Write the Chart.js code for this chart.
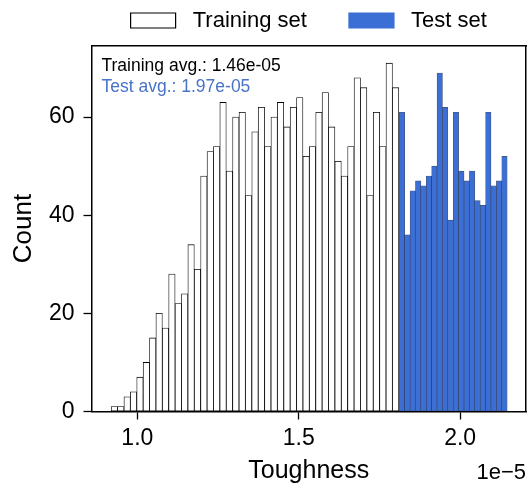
<!DOCTYPE html>
<html><head><meta charset="utf-8">
<script src="https://cdn.jsdelivr.net/npm/chart.js@4/dist/chart.umd.min.js"></script>
<style>html,body{margin:0;padding:0;background:#fff;}canvas{display:block;}</style>
</head><body>
<canvas id="c" width="528" height="489"></canvas>
<script>
// ---- data ----
const trainCounts = [1,1,3,4,7,10,15,20,17,28,22,24,34,29,48,53,54,63,49,60,61,44,57,62,54,60,63,58,62,64,52,54,61,65,58,51,48,54,68,66,44,61,54,71,66];
const testCounts = [61,36,45,47,46,48,50,69,62,39,61,49,47,49,43,42,61,46,47,52];
const trainBinStart = 0.919;   // in units of 1e-5
const trainBinWidth = 0.0198;
const testBinStart = 1.8115;
const testBinWidth = 0.01671;
const xTicks = [1.0, 1.5, 2.0];
const yTicks = [0, 20, 40, 60];
const seriesNames = ['Training set', 'Test set'];
const avgLabels = ['Training avg.: 1.46e-05', 'Test avg.: 1.97e-05'];
const xTitle = 'Toughness';
const yTitle = 'Count';
const xOffsetText = '1e\u22125';

// ---- styles / layout ----
const FONT = '"Liberation Sans", Arial, Helvetica, sans-serif';
const BLUE = '#3b6fd5';
const BLUE_TEXT = '#4873c8';
const X_MIN = 0.858, X_MAX = 2.204, Y_MAX = 74.6;
const PLOT_LEFT = 91.5, PLOT_RIGHT = 526;
const pxPerUnit = (PLOT_RIGHT - PLOT_LEFT) / (X_MAX - X_MIN);

const trainPoints = trainCounts.map((c, i) => ({x: trainBinStart + (i + 0.5) * trainBinWidth, y: c}));
const testPoints = testCounts.map((c, i) => ({x: testBinStart + (i + 0.5) * testBinWidth, y: c}));

const annotations = {
  id: 'annotations',
  afterDraw(chart) {
    const ctx = chart.ctx, a = chart.chartArea;
    ctx.save();
    ctx.font = '17.5px ' + FONT;
    ctx.textAlign = 'left';
    ctx.textBaseline = 'alphabetic';
    ctx.fillStyle = '#000';
    ctx.fillText(avgLabels[0], a.left + 10, a.top + 25.5);
    ctx.fillStyle = BLUE_TEXT;
    ctx.fillText(avgLabels[1], a.left + 10, a.top + 46);
    ctx.fillStyle = '#000';
    ctx.font = '22px ' + FONT;
    ctx.textAlign = 'right';
    ctx.fillText(xOffsetText, a.right, 478.5);
    ctx.restore();
  }
};

new Chart(document.getElementById('c'), {
  type: 'bar',
  data: {
    datasets: [
      {label: seriesNames[0], data: trainPoints, xAxisID: 'x', yAxisID: 'y',
       backgroundColor: '#ffffff', borderColor: '#000000', borderWidth: 0.8, borderSkipped: false,
       grouped: false, barThickness: trainBinWidth * pxPerUnit,
       legendFill: '#ffffff', legendStroke: '#000000', legendText: seriesNames[0] + ' '},
      {label: seriesNames[1], data: testPoints, xAxisID: 'x2', yAxisID: 'y',
       backgroundColor: BLUE, borderColor: 'rgba(10,25,70,0.75)', borderWidth: 0.7, borderSkipped: false,
       grouped: false, barThickness: testBinWidth * pxPerUnit,
       legendFill: BLUE, legendStroke: BLUE, legendText: seriesNames[1]}
    ]
  },
  options: {
    responsive: false,
    animation: false,
    devicePixelRatio: 1,
    layout: {padding: {top: -26.5, left: 0, right: 0, bottom: 0}},
    plugins: {
      legend: {
        display: true, position: 'top', align: 'center', fullSize: false,
        labels: {
          boxWidth: 45, boxHeight: 15, padding: 36, color: '#000',
          font: {family: FONT, size: 22},
          generateLabels: (chart) => chart.data.datasets.map((ds, i) => ({
            text: ' ' + ds.legendText, fillStyle: ds.legendFill, strokeStyle: ds.legendStroke,
            lineWidth: 1.2, hidden: false, datasetIndex: i, fontColor: '#000'
          }))
        },
        onClick: null
      },
      tooltip: {enabled: false}
    },
    scales: {
      x: {
        type: 'linear', position: 'bottom', min: X_MIN, max: X_MAX, offset: false,
        afterFit: (s) => { s.height = 77.5; },
        afterBuildTicks: (s) => { s.ticks = xTicks.map(v => ({value: v})); },
        ticks: {callback: (v) => Number(v).toFixed(1), color: '#000', font: {family: FONT, size: 23},
                padding: 5.5, maxRotation: 0, autoSkip: false},
        grid: {display: true, drawOnChartArea: false, drawTicks: true, tickLength: 8, tickWidth: 1.3,
               tickColor: '#000', offset: false},
        border: {display: true, color: '#000', width: 1.5},
        title: {display: true, text: xTitle, color: '#000', font: {family: FONT, size: 25},
                padding: {top: 0, bottom: 3}}
      },
      x2: {
        type: 'linear', position: 'top', axis: 'x', min: X_MIN, max: X_MAX, offset: false,
        afterFit: (s) => { s.height = 4; },
        afterBuildTicks: (s) => { s.ticks = xTicks.map(v => ({value: v})); },
        ticks: {display: false},
        grid: {display: false, drawOnChartArea: false, drawTicks: false, offset: false},
        border: {display: true, color: '#000', width: 1.5}
      },
      y: {
        type: 'linear', position: 'left', min: 0, max: Y_MAX,
        afterFit: (s) => { s.width = PLOT_LEFT; },
        afterBuildTicks: (s) => { s.ticks = yTicks.map(v => ({value: v})); },
        ticks: {color: '#000', font: {family: FONT, size: 23}, padding: 9},
        grid: {display: true, drawOnChartArea: false, drawTicks: true, tickLength: 8, tickWidth: 1.3,
               tickColor: '#000'},
        border: {display: true, color: '#000', width: 1.5},
        title: {display: true, text: yTitle, color: '#000', font: {family: FONT, size: 26},
                padding: {top: 8, bottom: 0}}
      },
      y2: {
        type: 'linear', position: 'right', min: 0, max: Y_MAX,
        afterFit: (s) => { s.width = 528 - PLOT_RIGHT; },
        ticks: {display: false},
        grid: {display: false, drawOnChartArea: false, drawTicks: false},
        border: {display: true, color: '#000', width: 1.5}
      }
    }
  },
  plugins: [annotations]
});
</script>
</body></html>
